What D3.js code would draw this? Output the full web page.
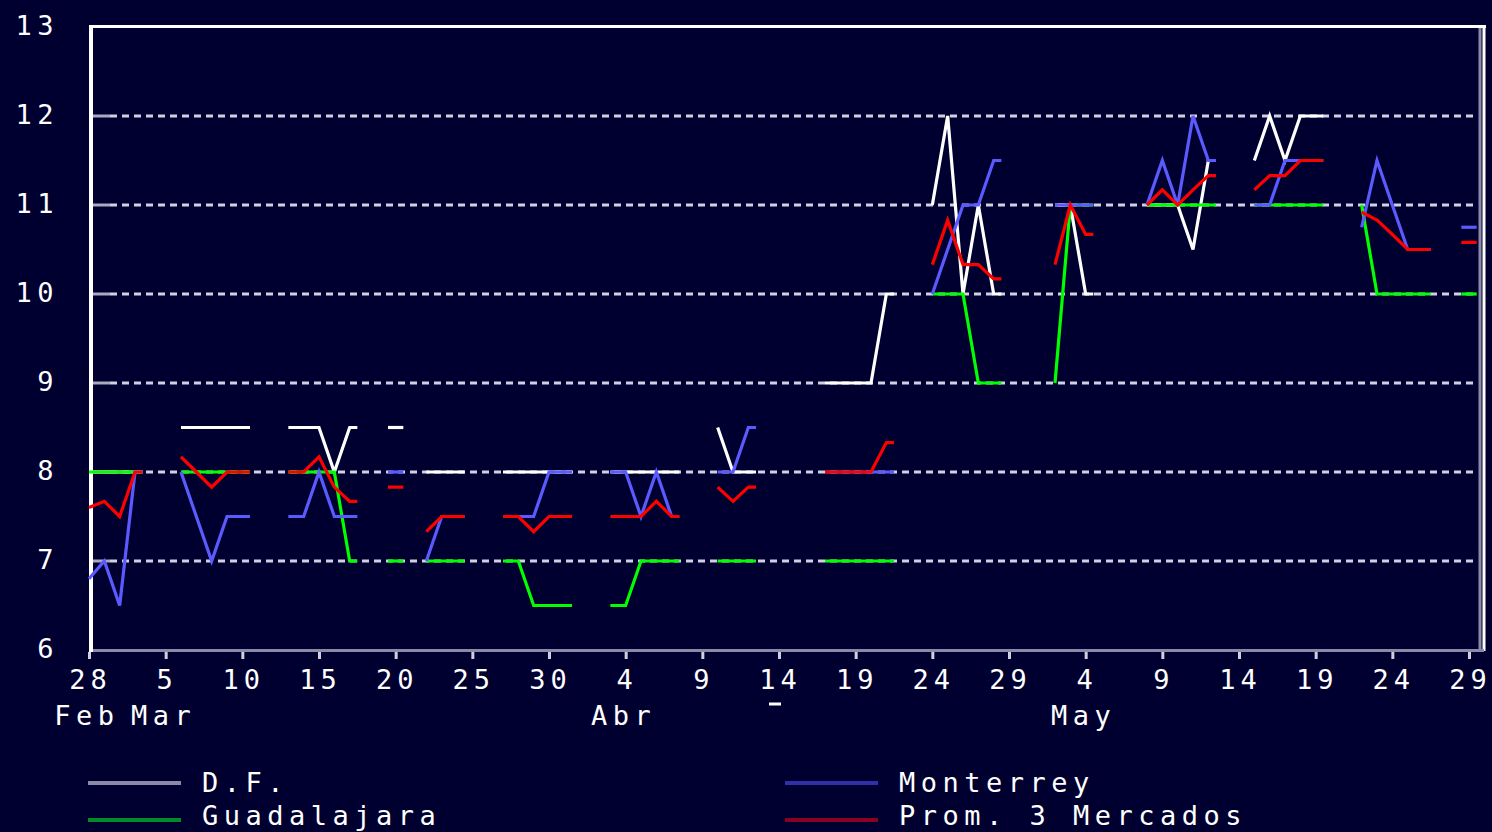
<!DOCTYPE html>
<html>
<head>
<meta charset="utf-8">
<script src="https://cdn.jsdelivr.net/npm/d3@7"></script>
<style>
  body { margin:0; background:#000030; overflow:hidden; }
  svg { display:block; }
  text { font-family:"DejaVu Sans Mono", monospace; fill:#ffffff; }
</style>
</head>
<body>
<div id="chart"></div>
<script>

// trading days shown (1995), weekends and holidays are gaps
var dates = [
  "1995-02-28","1995-03-01","1995-03-02","1995-03-03",
  "1995-03-06","1995-03-07","1995-03-08","1995-03-09","1995-03-10",
  "1995-03-13","1995-03-14","1995-03-15","1995-03-16","1995-03-17",
  "1995-03-20","1995-03-22","1995-03-23","1995-03-24",
  "1995-03-27","1995-03-28","1995-03-29","1995-03-30","1995-03-31",
  "1995-04-03","1995-04-04","1995-04-05","1995-04-06","1995-04-07",
  "1995-04-10","1995-04-11","1995-04-12",
  "1995-04-17","1995-04-18","1995-04-19","1995-04-20","1995-04-21",
  "1995-04-24","1995-04-25","1995-04-26","1995-04-27","1995-04-28",
  "1995-05-02","1995-05-03","1995-05-04",
  "1995-05-08","1995-05-09","1995-05-10","1995-05-11","1995-05-12",
  "1995-05-15","1995-05-16","1995-05-17","1995-05-18","1995-05-19",
  "1995-05-22","1995-05-23","1995-05-24","1995-05-25","1995-05-26",
  "1995-05-29"
];

var dfValues = [
  8,8,8,8,
  8.5,8.5,8.5,8.5,8.5,
  8.5,8.5,8.5,8,8.5,
  8.5,8,8,8,
  8,8,8,8,8,
  8,8,8,8,8,
  8.5,8,8,
  9,9,9,9,10,
  11,12,10,11,10,
  11,11,10,
  11,11,11,10.5,11.5,
  11.5,12,11.5,12,12,
  null,null,null,null,null,
  null
];

var gdlValues = [
  8,8,8,8,
  8,8,8,8,8,
  8,8,8,8,7,
  7,7,7,7,
  7,7,6.5,6.5,6.5,
  6.5,6.5,7,7,7,
  7,7,7,
  7,7,7,7,7,
  10,10,10,9,9,
  9,11,11,
  11,11,11,11,11,
  11,11,11,11,11,
  11,10,10,10,10,
  10
];

var mtyValues = [
  6.8,7,6.5,8,
  8,7.5,7,7.5,7.5,
  7.5,7.5,8,7.5,7.5,
  8,7,7.5,7.5,
  7.5,7.5,7.5,8,8,
  8,8,7.5,8,7.5,
  8,8,8.5,
  8,8,8,8,8,
  10,10.5,11,11,11.5,
  11,11,11,
  11,11.5,11,12,11.5,
  11,11,11.5,11.5,11.5,
  10.75,11.5,11,10.5,10.5,
  10.75
];

var promValues = [
  7.6,7.67,7.5,8,
  8.17,8,7.83,8,8,
  8,8,8.17,7.83,7.67,
  7.83,7.33,7.5,7.5,
  7.5,7.5,7.33,7.5,7.5,
  7.5,7.5,7.5,7.67,7.5,
  7.83,7.67,7.83,
  8,8,8,8,8.33,
  10.33,10.83,10.33,10.33,10.17,
  10.33,11,10.67,
  11,11.17,11,11.17,11.33,
  11.17,11.33,11.33,11.5,11.5,
  10.92,10.83,10.67,10.5,10.5,
  10.58
];

var seriesNames = ["D.F.","Guadalajara","Monterrey","Prom. 3 Mercados"];
var lineColors = ["#ffffff","#00ff00","#5a5aff","#ff0000"];
var legendColors = ["#8a8aa6","#008a28","#3030a8","#8a0020"];

var yTicks = [6,7,8,9,10,11,12,13];
var gridValues = [7,8,9,10,11,12];
var xTickDates = [
  "1995-02-28","1995-03-05","1995-03-10","1995-03-15","1995-03-20","1995-03-25",
  "1995-03-30","1995-04-04","1995-04-09","1995-04-14","1995-04-19","1995-04-24",
  "1995-04-29","1995-05-04","1995-05-09","1995-05-14","1995-05-19","1995-05-24",
  "1995-05-29"
];
var monthDates = ["1995-02-28","1995-03-05","1995-04-04","1995-05-04"];
var monthLabels = ["Feb","Mar","Abr","May"];

var parse = d3.timeParse("%Y-%m-%d");
var dayList = dates.map(parse);

var width = 1492, height = 832;
var plotLeft = 89, plotRight = 1469, plotTop = 27, plotBottom = 650;

var svg = d3.select("#chart").append("svg")
    .attr("width", width)
    .attr("height", height);

svg.append("rect").attr("width", width).attr("height", height).attr("fill", "#000030");

var x = d3.scaleTime()
    .domain([parse("1995-02-28"), parse("1995-05-29")])
    .range([plotLeft, plotRight]);

var y = d3.scaleLinear()
    .domain([6, 13])
    .range([plotBottom, plotTop]);

// dashed grid
svg.append("g").selectAll("line")
    .data(gridValues)
    .enter().append("line")
    .attr("x1", 110).attr("x2", 1477)
    .attr("y1", function(d){ return y(d); })
    .attr("y2", function(d){ return y(d); })
    .attr("stroke", "#d0d0e2")
    .attr("stroke-width", 3)
    .attr("stroke-dasharray", "7,5");

// small tick stubs on the left of the grid
svg.append("g").selectAll("line")
    .data(gridValues)
    .enter().append("line")
    .attr("x1", 92).attr("x2", 110)
    .attr("y1", function(d){ return y(d); })
    .attr("y2", function(d){ return y(d); })
    .attr("stroke", "#a8a8c0")
    .attr("stroke-width", 3);

// frame
svg.append("line").attr("x1", 89).attr("x2", 1486).attr("y1", 26.5).attr("y2", 26.5)
    .attr("stroke", "#ffffff").attr("stroke-width", 3);
svg.append("line").attr("x1", 1480).attr("x2", 1480).attr("y1", 28).attr("y2", 651)
    .attr("stroke", "#8a8aa8").attr("stroke-width", 3);
svg.append("line").attr("x1", 1484).attr("x2", 1484).attr("y1", 25).attr("y2", 651)
    .attr("stroke", "#ffffff").attr("stroke-width", 3);
svg.append("line").attr("x1", 89).attr("x2", 1484).attr("y1", 650.5).attr("y2", 650.5)
    .attr("stroke", "#8a8aa8").attr("stroke-width", 3);
svg.append("line").attr("x1", 91).attr("x2", 91).attr("y1", 25).attr("y2", 652)
    .attr("stroke", "#ffffff").attr("stroke-width", 4);

// y axis labels
var yAxis = svg.append("g")
    .attr("transform", "translate(59,0)")
    .call(d3.axisLeft(y).tickValues(yTicks).tickSize(0).tickPadding(0).tickFormat(d3.format("d")));
yAxis.select(".domain").remove();
yAxis.selectAll("text")
    .attr("dy", null)
    .attr("y", 7)
    .style("font-size", "27px")
    .style("letter-spacing", "5.5px")
    .style("fill", "#ffffff");

// x axis ticks and day labels
var xAxis = svg.append("g")
    .attr("transform", "translate(0,652)")
    .call(d3.axisBottom(x).tickValues(xTickDates.map(parse)).tickSize(7).tickFormat(d3.timeFormat("%-d")));
xAxis.select(".domain").remove();
xAxis.selectAll(".tick line").attr("stroke", "#d0d0e0").attr("stroke-width", 3);
xAxis.selectAll("text")
    .attr("dy", null)
    .attr("y", 37)
    .attr("dx", 1)
    .style("font-size", "27px")
    .style("letter-spacing", "5px")
    .style("fill", "#ffffff");

// month labels
svg.append("g").selectAll("text")
    .data(monthLabels)
    .enter().append("text")
    .attr("x", function(d, i){ return x(parse(monthDates[i])) - 2; })
    .attr("y", 725)
    .attr("text-anchor", "middle")
    .style("font-size", "27px")
    .style("letter-spacing", "5.5px")
    .text(function(d){ return d; });

// stray dash under the 14 Apr tick
svg.append("line")
    .attr("x1", x(parse("1995-04-14")) - 10)
    .attr("x2", x(parse("1995-04-14")) + 2)
    .attr("y1", 704).attr("y2", 704)
    .attr("stroke", "#ffffff")
    .attr("stroke-width", 3);

// split a series into runs of consecutive calendar days
function runs(vals){
  var out = [], cur = [];
  dayList.forEach(function(d, i){
    var v = vals[i];
    var contiguous = i > 0 && d3.timeDay.count(dayList[i-1], d) === 1;
    if (v == null || !contiguous) { if (cur.length) out.push(cur); cur = []; }
    if (v != null) cur.push({date: d, value: v});
  });
  if (cur.length) out.push(cur);
  return out;
}

function runPoints(run){
  var pts = run.map(function(p){ return [x(p.date), y(p.value)]; });
  var half = (x(d3.timeDay.offset(run[0].date, 1)) - x(run[0].date)) / 2;
  var last = pts[pts.length - 1];
  if (pts.length === 1) pts.unshift([last[0] - half, last[1]]);
  pts.push([last[0] + half, last[1]]);
  return pts;
}

var line = d3.line();
var allSeries = [dfValues, gdlValues, mtyValues, promValues];

allSeries.forEach(function(vals, s){
  svg.append("g").selectAll("path")
    .data(runs(vals))
    .enter().append("path")
    .attr("d", function(r){ return line(runPoints(r)); })
    .attr("fill", "none")
    .attr("stroke", lineColors[s])
    .attr("stroke-width", 3.2)
    .attr("stroke-linejoin", "miter");
});

// legend
var legendPos = [[88, 783], [88, 820], [785, 783], [785, 820]];
var legend = svg.append("g").selectAll("g")
    .data(seriesNames)
    .enter().append("g")
    .attr("transform", function(d, i){ return "translate(" + legendPos[i][0] + "," + legendPos[i][1] + ")"; });

legend.append("line")
    .attr("x1", 0).attr("x2", 93)
    .attr("stroke", function(d, i){ return legendColors[i]; })
    .attr("stroke-width", 4);

legend.append("text")
    .attr("x", 114)
    .attr("y", function(d, i){ return i % 2 === 0 ? 9 : 5; })
    .style("font-size", "27px")
    .style("letter-spacing", "5.5px")
    .text(function(d){ return d; });

</script>
</body>
</html>
